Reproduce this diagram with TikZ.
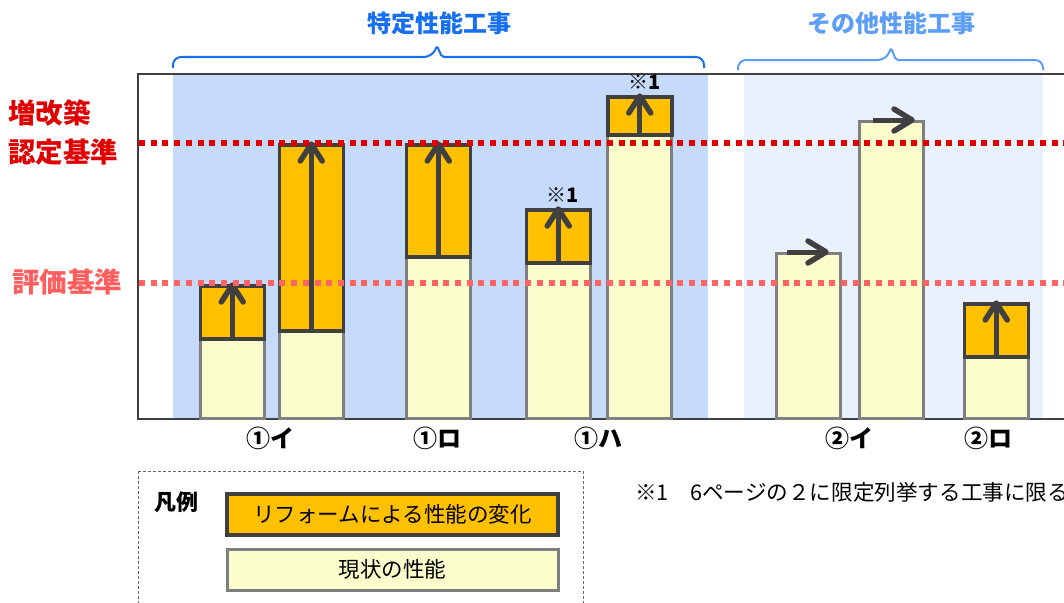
\documentclass[tikz,border=0pt]{standalone}
\usepackage{fontspec}
\newfontfamily\jp{Noto Sans CJK JP}
\definecolor{bluebg}{HTML}{C6DAFA}
\definecolor{lightbg}{HTML}{E9F1FD}
\definecolor{braceA}{HTML}{166EF0}
\definecolor{braceB}{HTML}{5C9DF5}
\definecolor{redD}{HTML}{E00000}
\definecolor{redL}{HTML}{FF5E5E}
\definecolor{redLline}{HTML}{FF6464}
\definecolor{orangeF}{HTML}{FFC000}
\definecolor{yellowF}{HTML}{FAFDCB}
\definecolor{grayB}{HTML}{7F7F7F}
\definecolor{darkB}{HTML}{404040}
\tikzset{
  obox/.style={draw=darkB, fill=orangeF, line width=3.5pt, inner sep=0pt, minimum width=64pt, anchor=north west},
  ybox/.style={draw=grayB, fill=yellowF, line width=3pt, inner sep=0pt, minimum width=64pt, anchor=north west},
  shaft/.style={draw=darkB, line width=5pt},
  chev/.style={draw=darkB, line width=5.5pt, line cap=round, line join=round},
  dotline/.style={line width=5.5pt, dash pattern=on 6pt off 5.7pt},
  catlbl/.style={font=\jp\bfseries\fontsize{24}{28}\selectfont, text=black, inner sep=0pt},
  notelbl/.style={font=\jp\bfseries\fontsize{20}{24}\selectfont, text=black, inner sep=0pt},
  leftlbl/.style={font=\jp\bfseries\fontsize{27.5}{32}\selectfont, inner sep=0pt, anchor=west},
  toplbl/.style={font=\jp\bfseries\fontsize{24}{28}\selectfont, inner sep=0pt},
}
\begin{document}
\begin{tikzpicture}[x=1pt,y=-1pt]
\useasboundingbox (0,0) rectangle (1064,602);
% backgrounds
\fill[bluebg] (173,74) rectangle (708,419);
\fill[lightbg] (744,74) rectangle (1043,419);
% frame
\draw[darkB, line width=2pt] (1070,74) -- (138,74) -- (138,419) -- (1070,419);
% braces
\draw[braceA, line width=2pt, line join=round]
  (173,68) [rounded corners=8pt] |- (432,57) [rounded corners=2pt] -- (437,46) -- (442,57) [rounded corners=8pt] -| (704,68);
\draw[braceB, line width=2pt, line join=round]
  (738,70) [rounded corners=8pt] |- (886,60) [rounded corners=2pt] -- (891,48) -- (896,60) [rounded corners=8pt] -| (1043,70);
\node[toplbl, text=braceA] (t1) at (439,23) {特定性能工事};
\node[toplbl, text=braceB] (t2) at (891,23) {その他性能工事};
% left labels
\node[leftlbl, text=redD] (lz) at (8,113) {増改築};
\node[leftlbl, text=redD] (ln) at (8,152) {認定基準};
\node[leftlbl, text=redL] (lh) at (12,282) {評価基準};
% bars: yellow parts
\node[ybox, minimum height=80pt]  (b1y) at (198.5,337) {};
\node[ybox, minimum height=88pt]  (b2y) at (277.5,329) {};
\node[ybox, minimum height=162pt] (b3y) at (404.5,255) {};
\node[ybox, minimum height=156pt] (b4y) at (524.5,261) {};
\node[ybox, minimum height=284pt] (b5y) at (606,133) {};
\node[ybox, minimum height=165pt] (b6y) at (775,252) {};
\node[ybox, minimum height=297pt] (b7y) at (857.5,120) {};
\node[ybox, minimum height=62pt]  (b8y) at (962.5,355) {};
% bars: orange parts
\node[obox, minimum height=53pt]  (b1o) at (198.5,284) {};
\node[obox, minimum height=186pt] (b2o) at (277.5,143) {};
\node[obox, minimum height=112pt] (b3o) at (404.5,143) {};
\node[obox, minimum height=53pt]  (b4o) at (524.5,208) {};
\node[obox, minimum height=38pt]  (b5o) at (606,95) {};
\node[obox, minimum height=53pt]  (b8o) at (962.5,302) {};
% up arrows
\foreach \b in {b1o,b2o,b3o,b4o,b5o,b8o}{
  \draw[shaft] (\b.south) -- ([yshift=-3pt]\b.north);
  \draw[chev] ([shift={(-11,18)}]\b.north) -- ([yshift=-1pt]\b.north) -- ([shift={(11,18)}]\b.north);
}
% right arrows
\coordinate (r6s) at (787,252);
\coordinate (r6e) at (826,252);
\coordinate (r7s) at (873,120);
\coordinate (r7e) at (912,120);
\foreach \s/\e in {r6s/r6e, r7s/r7e}{
  \draw[shaft] (\s) -- ([xshift=-3pt]\e);
  \draw[chev] ([shift={(-18,-11)}]\e) -- (\e) -- ([shift={(-18,11)}]\e);
}
% note marks
\node[notelbl] (n4) at (563,195) {※1};
\node[notelbl] (n5) at (645,82) {※1};
% dotted reference lines
\draw[dotline, redD] (139,143) -- (1070,143);
\draw[dotline, redLline] (139,283) -- (1070,283);
% category labels
\node[catlbl] (c1) at (270,438) {①イ};
\node[catlbl] (c2) at (437,438) {①ロ};
\node[catlbl] (c3) at (598,438) {①ハ};
\node[catlbl] (c4) at (849,438) {②イ};
\node[catlbl] (c5) at (988,438) {②ロ};
% legend
\draw[darkB!80, line width=1pt, dash pattern=on 3pt off 2pt] (138,471) rectangle (583,640);
\node[font=\jp\bfseries\fontsize{22}{26}\selectfont, inner sep=0pt] (lg) at (176,502) {凡例};
\node[draw=darkB, fill=orangeF, line width=3.5pt, minimum width=331pt, minimum height=41pt, inner sep=0pt, font=\jp\fontsize{21.5}{26}\selectfont] (lo) at (392.5,514.5) {リフォームによる性能の変化};
\node[draw=grayB, fill=yellowF, line width=3pt, minimum width=331pt, minimum height=41pt, inner sep=0pt, font=\jp\fontsize{21.5}{26}\selectfont] (ly) at (392.5,569.5) {現状の性能};
% footnote
\node[font=\jp\fontsize{21.6}{26}\selectfont, anchor=west, inner sep=0pt] (fn) at (635,492) {※1　6ページの２に限定列挙する工事に限る};
\end{tikzpicture}
\end{document}
